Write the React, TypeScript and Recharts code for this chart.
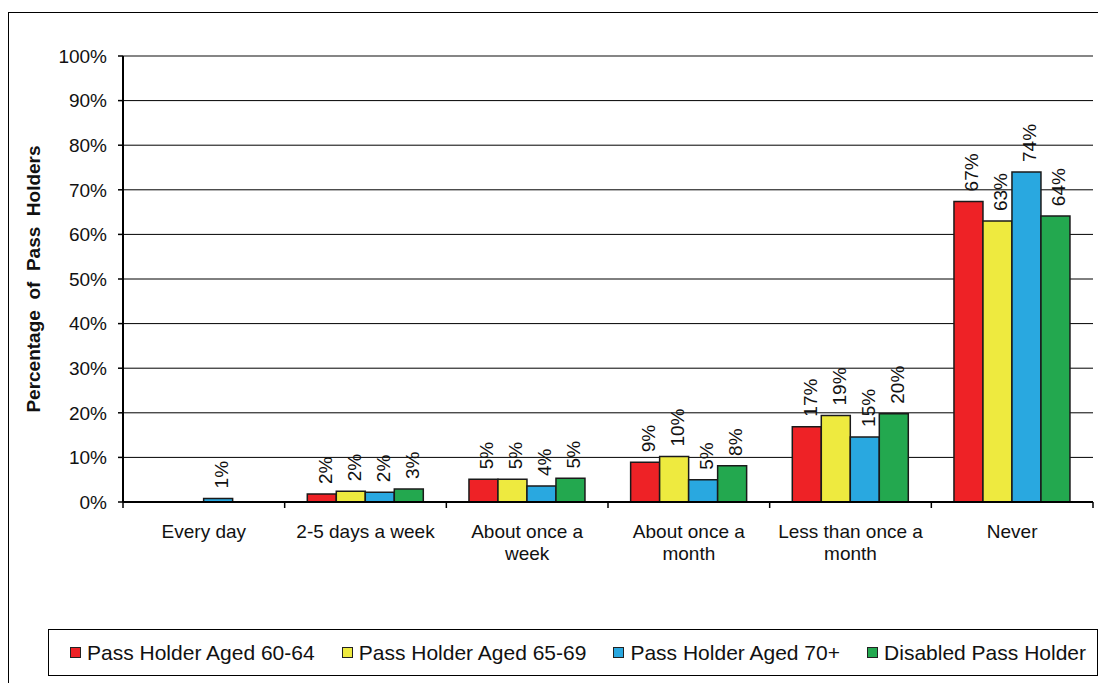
import React from "react";
import {
  BarChart,
  Bar,
  XAxis,
  YAxis,
  CartesianGrid,
  Legend,
  LabelList,
  ReferenceLine,
  Text,
} from "recharts";

// ─── Data ───────────────────────────────────────────────────────────────────
const CATEGORIES = [
  "Every day",
  "2-5 days a week",
  "About once a week",
  "About once a month",
  "Less than once a month",
  "Never",
];
const AGED_60_64 = [0, 1.8, 5.1, 8.9, 16.9, 67.4];
const AGED_65_69 = [0, 2.4, 5.1, 10.2, 19.4, 63.0];
const AGED_70_PLUS = [0.8, 2.2, 3.6, 5.0, 14.6, 74.0];
const DISABLED = [0, 2.9, 5.3, 8.1, 19.8, 64.1];
const Y_TICKS = [0, 10, 20, 30, 40, 50, 60, 70, 80, 90, 100];

const SERIES = [
  { key: "a", name: "Pass Holder Aged 60-64", color: "#EE2226", values: AGED_60_64 },
  { key: "b", name: "Pass Holder Aged 65-69", color: "#EEEA3F", values: AGED_65_69 },
  { key: "c", name: "Pass Holder Aged 70+", color: "#29A8E0", values: AGED_70_PLUS },
  { key: "d", name: "Disabled Pass Holder", color: "#23A84F", values: DISABLED },
];

const data = CATEGORIES.map((cat, i) => {
  const row: Record<string, string | number> = { cat };
  SERIES.forEach((s) => (row[s.key] = s.values[i]));
  return row;
});

// ─── Layout ─────────────────────────────────────────────────────────────────
const FONT = "'Liberation Sans', Arial, sans-serif";
const W = 1096;
const H = 668;
const MARGIN = { top: 43, right: 12, left: 14, bottom: 99 };
const Y_W = 100;
const PLOT_W = W - MARGIN.left - MARGIN.right - Y_W;
const BAND = PLOT_W / CATEGORIES.length;

function CategoryTick(props: any) {
  const { x, y, payload, index } = props;
  const last = index === CATEGORIES.length - 1;
  return (
    <g>
      <line x1={x - BAND / 2} x2={x - BAND / 2} y1={y} y2={y + 6} stroke="#000" strokeWidth={1.5} />
      {last && <line x1={x + BAND / 2} x2={x + BAND / 2} y1={y} y2={y + 6} stroke="#000" strokeWidth={1.5} />}
      <Text
        x={x}
        y={y + 23}
        width={155}
        textAnchor="middle"
        verticalAnchor="start"
        lineHeight={22}
        fill="#111"
        fontSize={19}
        fontFamily={FONT}
        style={{ fontSize: "19px", fontFamily: FONT }}
      >
        {payload.value}
      </Text>
    </g>
  );
}

function ValueLabel(props: any) {
  const { x, y, width, value } = props;
  if (!value) return null;
  const lx = x + width / 2 + 10;
  const ly = y - 10;
  return (
    <text
      x={lx}
      y={ly}
      transform={`rotate(-90, ${lx}, ${ly})`}
      textAnchor="start"
      fontSize={19}
      fontFamily={FONT}
      fill="#111"
    >
      {Math.round(value)}%
    </text>
  );
}

function LegendBox() {
  return (
    <div
      style={{
        boxSizing: "border-box",
        height: 47,
        border: "1px solid #000",
        display: "flex",
        alignItems: "center",
        justifyContent: "space-between",
        paddingLeft: 21,
        paddingRight: 11,
        fontFamily: FONT,
        fontSize: 21,
        color: "#111",
        background: "#fff",
      }}
    >
      {SERIES.map((s) => (
        <div key={s.key} style={{ display: "flex", alignItems: "center" }}>
          <span
            style={{
              display: "inline-block",
              width: 9,
              height: 9,
              border: "1px solid #222",
              background: s.color,
              marginRight: 6,
            }}
          />
          <span>{s.name}</span>
        </div>
      ))}
    </div>
  );
}

export default function App() {
  return (
    <div
      style={{
        position: "relative",
        marginTop: 4,
        width: W,
        height: 680,
        border: "1px solid #000",
        background: "#fff",
      }}
    >
      <BarChart
        width={W}
        height={H}
        data={data}
        margin={MARGIN}
        barCategoryGap="14%"
        barGap={0}
      >
        <CartesianGrid horizontal vertical={false} stroke="#000" strokeWidth={1} />
        <XAxis
          dataKey="cat"
          height={80}
          tickSize={0}
          tickMargin={0}
          tickLine={false}
          axisLine={{ stroke: "#000", strokeWidth: 2 }}
          tick={<CategoryTick />}
          interval={0}
        />
        <YAxis
          width={Y_W}
          domain={[0, 100]}
          ticks={Y_TICKS}
          interval={0}
          tickFormatter={(v) => `${v}%`}
          tickSize={5}
          tickMargin={11}
          axisLine={{ stroke: "#000", strokeWidth: 2 }}
          tickLine={{ stroke: "#000", strokeWidth: 1.5 }}
          tick={{ fontSize: 19, fontFamily: FONT, fill: "#111" }}
          label={{
            value: "Percentage\u00a0 of\u00a0 Pass\u00a0 Holders",
            angle: -90,
            position: "center",
            dx: -40,
            style: {
              fontSize: 19,
              fontWeight: "bold",
              fontFamily: FONT,
              fill: "#111",
            },
          }}
        />
        <YAxis
          yAxisId="right"
          orientation="right"
          width={0}
          domain={[0, 100]}
          tick={false}
          tickLine={false}
          axisLine={{ stroke: "#888", strokeWidth: 1.5 }}
        />
        <ReferenceLine y={100} stroke="#888" strokeWidth={1.5} />
        <Legend
          verticalAlign="middle"
          align="center"
          layout="horizontal"
          content={<LegendBox />}
          wrapperStyle={{ left: 39, top: 616, width: 1050, height: 47 }}
        />
        {SERIES.map((s) => (
          <Bar
            key={s.key}
            dataKey={s.key}
            name={s.name}
            fill={s.color}
            stroke="#1a1a1a"
            strokeWidth={1.5}
            isAnimationActive={false}
          >
            <LabelList dataKey={s.key} content={<ValueLabel />} />
          </Bar>
        ))}
      </BarChart>
    </div>
  );
}
